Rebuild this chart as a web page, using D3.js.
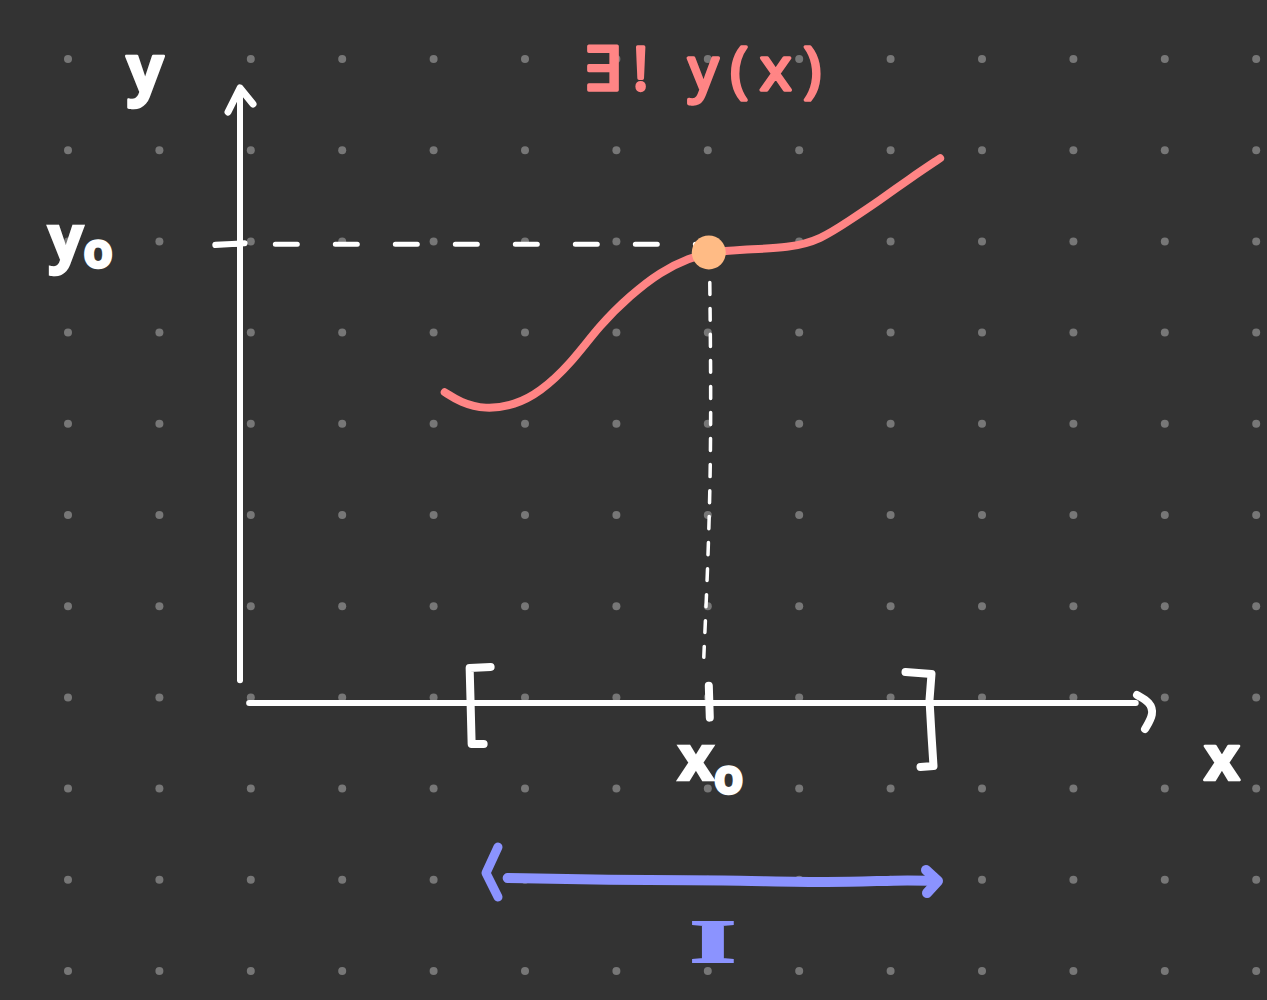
<!DOCTYPE html>
<html><head><meta charset="utf-8">
<script src="https://cdn.jsdelivr.net/npm/d3@7"></script>
<style>html,body{margin:0;padding:0;background:#333333;}svg{display:block;}</style>
</head><body>
<script>
// Data (in grid units; origin at the axes' crossing)
const curveX = [2.24, 2.41, 2.68, 3.01, 3.28, 3.61, 3.94, 4.27, 4.60, 4.92, 5.14, 5.47, 6.02, 6.35, 6.67, 7.00, 7.33, 7.66];
const curveY = [3.40, 3.29, 3.21, 3.26, 3.40, 3.70, 4.14, 4.46, 4.72, 4.87, 4.93, 4.96, 4.98, 5.07, 5.28, 5.50, 5.74, 5.96];
const pointX0 = [5.14];
const pointY0 = [4.93];
const intervalBounds = [2.6, 7.5];
const labels = ["y", "x", "y₀", "x₀", "∃! y(x)", "I"];

const W = 1267, H = 1000;
const svg = d3.select("body").append("svg").attr("width", W).attr("height", H);
svg.append("rect").attr("width", W).attr("height", H).attr("fill", "#333333");

const unit = 91.4;
const x = d3.scaleLinear().domain([0, 1]).range([240, 240 + unit]);
const y = d3.scaleLinear().domain([0, 1]).range([703, 703 - unit]);

// dot grid
const dotCols = d3.range(0, 14).map(i => 68 + i * 91.4);
const dotRows = d3.range(0, 11).map(i => 59 + i * 91.2);
const dots = svg.append("g");
dotRows.forEach(r => dotCols.forEach(c => {
  dots.append("circle").attr("cx", c).attr("cy", r).attr("r", 4).attr("fill", "#777777");
}));

const white = "#ffffff", red = "#ff8585", orange = "#ffbb85", blue = "#8b93ff";
const line = d3.line().curve(d3.curveBasis);

// y axis
svg.append("path").attr("d", line([[x(0), y(0.25)], [x(0), y(6.73)]]))
  .attr("stroke", white).attr("stroke-width", 6).attr("fill", "none").attr("stroke-linecap", "round");
svg.append("path").attr("d", d3.line()([[228, 112], [240, 88], [253, 104]]))
  .attr("stroke", white).attr("stroke-width", 7).attr("fill", "none").attr("stroke-linecap", "round").attr("stroke-linejoin", "round");

// x axis
svg.append("path").attr("d", d3.line()([[x(0.1), y(0)], [x(9.8), y(0)]]))
  .attr("stroke", white).attr("stroke-width", 6).attr("fill", "none").attr("stroke-linecap", "round");
svg.append("path").attr("d", d3.line().curve(d3.curveBasis)([[1137, 695], [1150, 702], [1154, 714], [1145, 729]]))
  .attr("stroke", white).attr("stroke-width", 8).attr("fill", "none").attr("stroke-linecap", "round");

// dashed guide lines
svg.append("path").attr("d", d3.line()([[x(-0.27), y(5.02)], [x(5.0), y(5.02)]]))
  .attr("stroke", white).attr("stroke-width", 5).attr("fill", "none").attr("stroke-linecap", "round")
  .attr("stroke-dasharray", "22,38");
svg.append("path").attr("d", d3.line()([[x(-0.27), y(5.01)], [x(0.05), y(5.03)]]))
  .attr("stroke", white).attr("stroke-width", 6).attr("fill", "none").attr("stroke-linecap", "round");
svg.append("path").attr("d", line([[x(pointX0[0]), y(4.6)], [x(pointX0[0]) + 2, y(2.5)], [x(pointX0[0]) - 6, y(0.5)]]))
  .attr("stroke", white).attr("stroke-width", 3.5).attr("fill", "none").attr("stroke-linecap", "round")
  .attr("stroke-dasharray", "12,14");

// x0 tick
svg.append("path").attr("d", d3.line()([[x(pointX0[0]) - 1, y(0.19)], [x(pointX0[0]), y(-0.16)]]))
  .attr("stroke", white).attr("stroke-width", 8).attr("fill", "none").attr("stroke-linecap", "round");

// brackets
const bl = x(intervalBounds[0]), br = x(intervalBounds[1]);
svg.append("path").attr("d", d3.line()([[bl + 13, 667], [bl - 8, 668], [bl - 7, 705], [bl - 6, 744], [bl + 6, 744]]))
  .attr("stroke", white).attr("stroke-width", 8).attr("fill", "none").attr("stroke-linecap", "round").attr("stroke-linejoin", "round");
svg.append("path").attr("d", d3.line()([[br - 20, 672], [br + 6, 674], [br + 4, 700], [br + 6, 735], [br + 8, 766], [br - 5, 767]]))
  .attr("stroke", white).attr("stroke-width", 8).attr("fill", "none").attr("stroke-linecap", "round").attr("stroke-linejoin", "round");

// red curve
svg.append("path").attr("d", d3.line().x((d, i) => x(d)).y((d, i) => y(curveY[i])).curve(d3.curveBasis)(curveX))
  .attr("stroke", red).attr("stroke-width", 8).attr("fill", "none").attr("stroke-linecap", "round");

// point
svg.append("circle").attr("cx", x(pointX0[0]) - 1).attr("cy", y(pointY0[0])).attr("r", 17).attr("fill", orange);

// interval arrow I
svg.append("path").attr("d", d3.line().curve(d3.curveBasis)([[bl + 30, 878], [x(4.0), 880], [x(5.3), 880], [x(6.5), 883], [x(7.2), 880], [br + 10, 881]]))
  .attr("stroke", blue).attr("stroke-width", 10).attr("fill", "none").attr("stroke-linecap", "round");
svg.append("path").attr("d", d3.line()([[926, 870], [938, 881], [927, 893]]))
  .attr("stroke", blue).attr("stroke-width", 10).attr("fill", "none").attr("stroke-linecap", "round").attr("stroke-linejoin", "round");
svg.append("path").attr("d", d3.line()([[498, 847], [486, 873], [498, 897]]))
  .attr("stroke", blue).attr("stroke-width", 9).attr("fill", "none").attr("stroke-linecap", "round").attr("stroke-linejoin", "round");

// labels
const txt = (s, px, py, size, color, fam, weight) => svg.append("text")
  .attr("x", px).attr("y", py).attr("text-anchor", "middle")
  .attr("font-family", fam).attr("font-size", size).attr("font-weight", weight || "normal")
  .attr("fill", color).attr("stroke", color).attr("stroke-width", 2.5).attr("stroke-linejoin", "round")
  .text(s);

txt(labels[0], 145, 92, 66, white, "'Open Sans', sans-serif", "bold");
txt(labels[1], 1222, 780, 62, white, "'Open Sans', sans-serif", "bold");
svg.append("text").attr("x", 48).attr("y", 260).attr("font-family", "'Open Sans', sans-serif")
  .attr("font-size", 62).attr("font-weight", "bold").attr("fill", white).attr("stroke", white).attr("stroke-width", 2.5)
  .text("y").append("tspan").attr("font-size", 48).attr("dy", 8).text("o");
svg.append("text").attr("x", 678).attr("y", 780).attr("font-family", "'Open Sans', sans-serif")
  .attr("font-size", 62).attr("font-weight", "bold").attr("fill", white).attr("stroke", white).attr("stroke-width", 2.5)
  .text("x").append("tspan").attr("font-size", 48).attr("dy", 14).text("o");
txt(labels[4], 708, 90, 60, red, "'Open Sans', sans-serif", "normal")
  .attr("letter-spacing", 12).attr("stroke-width", 3.5).attr("stroke-linecap", "round");
svg.append("text").attr("text-anchor", "middle")
  .attr("transform", "translate(713,962) scale(1.9,1)")
  .attr("font-family", "'Liberation Serif', serif").attr("font-size", 62).attr("font-weight", "bold")
  .attr("fill", blue).attr("stroke", blue).attr("stroke-width", 2).text(labels[5]);
</script>
</body></html>
